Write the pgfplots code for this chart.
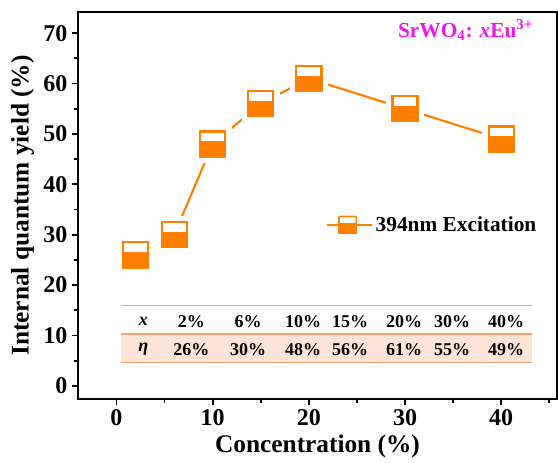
\documentclass[border=0pt]{standalone}
\usepackage{pgfplots}
\pgfplotsset{compat=1.18}
\usepackage{fontspec}
\setmainfont{Liberation Serif}

\definecolor{qyorange}{RGB}{255,128,0}
\definecolor{tabline}{RGB}{242,162,110}
\definecolor{tabfill}{RGB}{252,229,214}
\definecolor{titlemag}{RGB}{240,20,240}

% half-filled square symbol with a white gap around it
\pgfdeclareplotmark{halfsq}{%
  \pgfsetfillcolor{white}%
  \pgfpathrectangle{\pgfpoint{-\pgfplotmarksize-5pt}{-\pgfplotmarksize-5pt}}%
                   {\pgfpoint{2\pgfplotmarksize+10pt}{2\pgfplotmarksize+10pt}}%
  \pgfusepathqfill
  \pgfsetcornersarced{\pgfpoint{1.2pt}{1.2pt}}%
  \pgfpathrectangle{\pgfpoint{-\pgfplotmarksize}{-\pgfplotmarksize}}%
                   {\pgfpoint{2\pgfplotmarksize}{2\pgfplotmarksize}}%
  \pgfusepathqfillstroke
  \pgfsetfillcolor{qyorange}%
  \pgfpathrectangle{\pgfpoint{-\pgfplotmarksize}{-\pgfplotmarksize}}%
                   {\pgfpoint{2\pgfplotmarksize}{1.12\pgfplotmarksize}}%
  \pgfusepathqfillstroke
}

\begin{document}
\begin{tikzpicture}
\begin{axis}[
  scale only axis,
  width=359.25pt, height=290.25pt,
  xmin=-4, xmax=45.8, ymin=-2.6, ymax=74.2,
  xtick={0,10,...,50}, ytick={0,10,...,70},
  minor x tick num=1, minor y tick num=1,
  tick align=outside, tick pos=left,
  major tick length=4.5pt, minor tick length=3pt,
  every tick/.style={black, line width=1.4pt},
  axis line style={line width=1.5pt},
  tick label style={font=\fontsize{18}{20}\selectfont\bfseries},
  /pgf/number format/assume math mode=true,
  label style={font=\fontsize{19}{22}\selectfont\bfseries},
  xlabel={Concentration (\%)},
  ylabel={Internal quantum yield (\%)},
  legend style={at={(0.516,0.45)}, anchor=west, draw=none, fill=none,
    inner sep=0pt, font=\fontsize{16}{18}\selectfont\bfseries},
  legend cell align=left,
  clip=false,
]
% concentration / efficiency table
\fill[tabfill] (0.52,4.6) rectangle (43.2,10.3);
\draw[tabline, line width=0.9pt] (0.52,15.9) -- (43.2,15.9);
\draw[tabline, line width=0.9pt] (0.52,10.3) -- (43.2,10.3);
\draw[tabline, line width=0.9pt] (0.52,4.6) -- (43.2,4.6);
\begin{scope}[every node/.style={font=\fontsize{13.5}{15}\selectfont\bfseries}]
\node at (2.8,12.8) {\textit{x}};
\node at (7.8,12.8) {2\%};
\node at (13.7,12.8) {6\%};
\node at (19.4,12.8) {10\%};
\node at (24.3,12.8) {15\%};
\node at (29.9,12.8) {20\%};
\node at (34.9,12.8) {30\%};
\node at (40.5,12.8) {40\%};
\node at (2.8,7.2) {\textit{η}};
\node at (7.8,7.2) {26\%};
\node at (13.7,7.2) {30\%};
\node at (19.4,7.2) {48\%};
\node at (24.3,7.2) {56\%};
\node at (29.9,7.2) {61\%};
\node at (34.9,7.2) {55\%};
\node at (40.5,7.2) {49\%};
\end{scope}
\node[text=titlemag, font=\fontsize{16}{18}\selectfont\bfseries] at (36.3,70.6)
  {SrWO\textsubscript{4}: \textit{x}Eu\textsuperscript{3+}};

\addplot[qyorange, line width=1.6pt, mark=halfsq, mark size=9.4pt,
  mark options={draw=qyorange, line width=1.7pt, solid},
  legend image code/.code={
    \path (0pt,0pt) -- (34pt,0pt);
    \draw[qyorange, line width=1.2pt, fill=white, rounded corners=0.7pt]
      (9.25pt,-6.25pt) rectangle (22.25pt,6.25pt);
    \draw[qyorange, line width=1.2pt, fill=qyorange]
      (9.25pt,-6.25pt) rectangle (22.25pt,0.6pt);
    \draw[qyorange, line width=1.8pt] (0pt,0pt) -- (6pt,0pt);
    \draw[qyorange, line width=1.8pt] (25.5pt,0pt) -- (31.5pt,0pt);
  }]
  coordinates {(2,26) (6,30) (10,48) (15,56) (20,61) (30,55) (40,49)};
\addlegendentry{394nm Excitation}
\end{axis}
\pgfresetboundingbox
\path[use as bounding box] ([shift={(-58.5pt,-47.25pt)}]current axis.south west)
  rectangle ([shift={(0.75pt,9pt)}]current axis.north east);
\end{tikzpicture}
\end{document}
